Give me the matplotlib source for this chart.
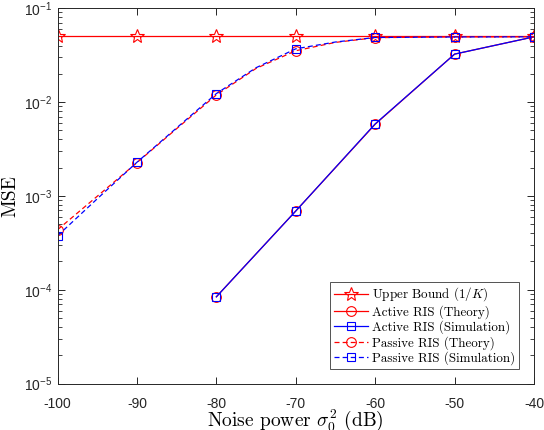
import numpy as np
import matplotlib
matplotlib.use("Agg")
from matplotlib import pyplot as plt
from matplotlib.font_manager import FontProperties
from matplotlib.ticker import LogLocator, NullFormatter

plt.rcParams['font.family'] = ['Liberation Sans', 'DejaVu Sans']
plt.rcParams['mathtext.fontset'] = 'cm'
plt.rcParams['axes.unicode_minus'] = False

# noise power grid (dB)
noise = [-100, -90, -80, -70, -60, -50, -40]
noise_fine = [-100, -95, -90, -85, -80, -75, -70, -65, -60, -55, -50, -45, -40]

upper_bound = [0.05, 0.05, 0.05, 0.05, 0.05, 0.05, 0.05]

noise_active = [-80, -70, -60, -50, -40]
active_theory = [8.4e-5, 6.9e-4, 5.8e-3, 0.0324, 0.0495]
active_sim = [8.4e-5, 6.9e-4, 5.85e-3, 0.0324, 0.0495]

passive_theory = [4.35e-4, 9.9e-4, 2.26e-3, 5.2e-3, 0.0119, 0.0228, 0.0352,
                  0.0432, 0.0485, 0.049, 0.0493, 0.0494, 0.0495]
passive_sim = [3.75e-4, 9.3e-4, 2.28e-3, 5.3e-3, 0.0123, 0.0232, 0.0369,
               0.0436, 0.0487, 0.049, 0.0493, 0.0494, 0.0495]

red = (1, 0, 0)
blue = (0, 0, 1)

fig = plt.figure(figsize=(5.44, 4.30), dpi=100)
ax = fig.add_axes([0.1057, 0.108, 0.876, 0.873])

ax.semilogy(noise, upper_bound, '-', color=red, lw=0.9, marker='*', ms=10,
            mfc='none', mew=0.8, label='Upper Bound ($1/K$)')
ax.semilogy(noise_active, active_theory, '-', color=red, lw=0.9, marker='o', ms=7,
            mfc='none', mew=0.8, label='Active RIS (Theory)')
ax.semilogy(noise_active, active_sim, '-', color=blue, lw=0.9, marker='s', ms=6,
            mfc='none', mew=0.8, label='Active RIS (Simulation)')
ax.semilogy(noise_fine, passive_theory, '--', color=red, lw=0.9, marker='o', ms=7,
            mfc='none', mew=0.8, markevery=2, dashes=(4, 2.5),
            label='Passive RIS (Theory)')
ax.semilogy(noise_fine, passive_sim, '--', color=blue, lw=0.9, marker='s', ms=6,
            mfc='none', mew=0.8, markevery=2, dashes=(4, 2.5),
            label='Passive RIS (Simulation)')

ax.set_xlim(-100, -40)
ax.set_ylim(1e-5, 1e-1)
ax.set_xticks(noise)
ax.yaxis.set_minor_locator(LogLocator(base=10, subs=np.arange(2, 10)))
ax.yaxis.set_minor_formatter(NullFormatter())

axcol = (0.15, 0.15, 0.15)
for s in ax.spines.values():
    s.set_color(axcol)
    s.set_linewidth(0.7)
ax.tick_params(which='both', direction='in', top=True, right=True,
               colors=axcol, labelcolor=(0.15, 0.15, 0.15), labelsize=10)
ax.tick_params(which='major', length=5, width=0.7)
ax.tick_params(which='minor', length=2.8, width=0.6)
ax.tick_params(axis='x', pad=10)
ax.tick_params(axis='y', pad=4)

lab_font = FontProperties(family='cmr10', size=14)
ax.set_xlabel(r'Noise power $\sigma_0^2$ (dB)', fontproperties=lab_font, labelpad=-2.5)
ax.set_ylabel('MSE', fontproperties=lab_font, labelpad=3)

leg_font = FontProperties(family='cmr10', size=9.4)
leg = ax.legend(loc='lower right', prop=leg_font, bbox_to_anchor=(0.969, 0.038),
                borderaxespad=0, frameon=True, fancybox=False, handlelength=2.6,
                handletextpad=0.35, labelspacing=0.13, borderpad=0.3)
leg.get_frame().set_edgecolor(axcol)
leg.get_frame().set_linewidth(0.7)

fig.savefig('out.png', dpi=100)
